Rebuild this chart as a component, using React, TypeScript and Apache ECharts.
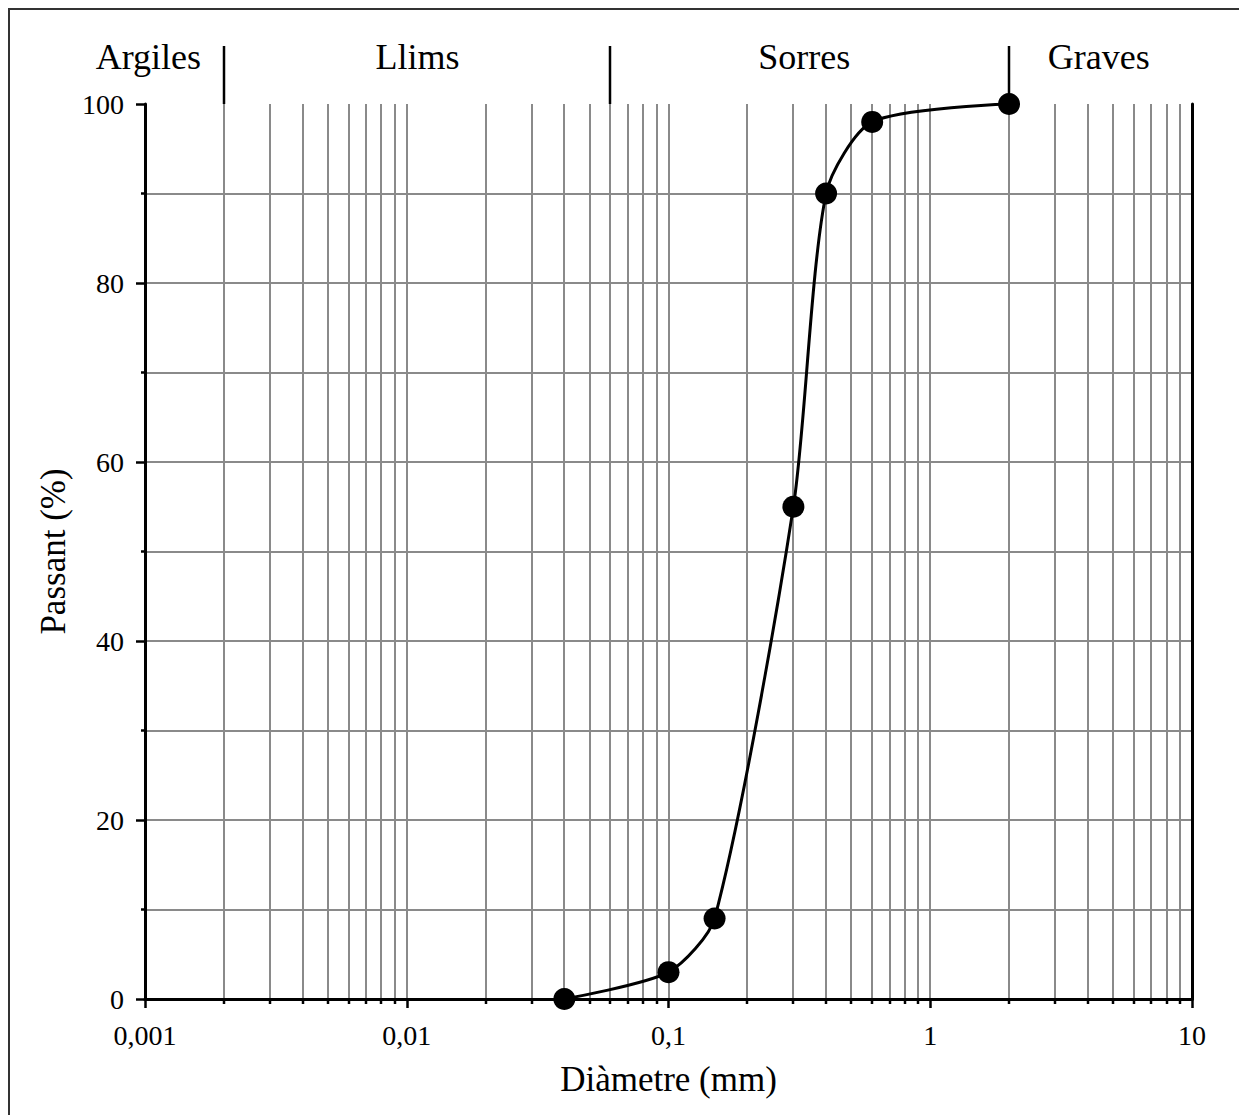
import React, { useEffect, useRef } from 'react';
import * as echarts from 'echarts';

// Grain size distribution data
const diameters = [0.04, 0.1, 0.15, 0.3, 0.4, 0.6, 2];
const passing = [0, 3, 9, 55, 90, 98, 100];

// Axis labels
const xTickLabels = ['0,001', '0,01', '0,1', '1', '10'];
const yTickLabels = ['0', '20', '40', '60', '80', '100'];

// Grid helpers
const decades = [0.001, 0.01, 0.1, 1];
const multipliers = [1, 2, 3, 4, 5, 6, 7, 8, 9];
const horizontalLines = [10, 20, 30, 40, 50, 60, 70, 80, 90];

// Soil zones
const zoneNames = ['Argiles', 'Llims', 'Sorres', 'Graves'];
const zoneLabelAt = [0.00103, 0.011, 0.33, 4.4];
const zoneBounds = [0.002, 0.06, 2];

const FONT = '"Liberation Serif", "Times New Roman", serif';
const GRAY = '#8a8a8a';

export default function App() {
  const ref = useRef<HTMLDivElement>(null);

  useEffect(() => {
    if (!ref.current) return;
    const chart = echarts.init(ref.current, undefined, { renderer: 'svg' });

    const option: any = {
      animation: false,
      backgroundColor: '#fff',
      textStyle: { fontFamily: FONT },
      grid: { left: 145, right: 47, top: 104, bottom: 116 },
      graphic: [
        {
          type: 'rect',
          shape: { x: 9, y: 9, width: 1400, height: 1400 },
          style: { fill: 'none', stroke: '#333', lineWidth: 2 },
          silent: true,
        },
      ],
      xAxis: [
        {
          type: 'log',
          logBase: 10,
          min: 0.001,
          max: 10,
          position: 'bottom',
          z: 5,
          name: 'Diàmetre (mm)',
          nameLocation: 'middle',
          nameGap: 63,
          nameTextStyle: { fontFamily: FONT, fontSize: 35, color: '#000' },
          axisLine: { show: true, lineStyle: { color: '#000', width: 3 } },
          axisTick: { show: true, length: 9, lineStyle: { color: '#000', width: 2.5 } },
          minorTick: { show: false },
          splitLine: { show: false },
          axisLabel: {
            fontFamily: FONT,
            fontSize: 28,
            color: '#000',
            margin: 22,
            formatter: (v: number) => {
              const idx = Math.round(Math.log10(v)) + 3;
              return xTickLabels[idx] ?? '';
            },
          },
        },
        {
          type: 'log',
          logBase: 10,
          min: 0.001,
          max: 10,
          position: 'top',
          z: 5,
          axisLine: { show: true, lineStyle: { color: '#000', width: 3 } },
          axisTick: { show: false },
          axisLabel: { show: false },
          splitLine: { show: false },
        },
      ],
      yAxis: [
        {
          type: 'value',
          min: 0,
          max: 100,
          interval: 20,
          position: 'left',
          z: 5,
          name: 'Passant (%)',
          nameLocation: 'middle',
          nameGap: 67,
          nameRotate: 90,
          nameTextStyle: { fontFamily: FONT, fontSize: 35, color: '#000' },
          axisLine: { show: true, lineStyle: { color: '#000', width: 3 } },
          axisTick: { show: true, length: 9, lineStyle: { color: '#000', width: 2.5 } },
          minorTick: { show: true, splitNumber: 2, length: 4, lineStyle: { color: '#000', width: 2.5 } },
          splitLine: { show: false },
          axisLabel: {
            fontFamily: FONT,
            fontSize: 28,
            color: '#000',
            margin: 21,
            formatter: (v: number) => yTickLabels[Math.round(v / 20)] ?? '',
          },
        },
        {
          type: 'value',
          min: 0,
          max: 100,
          interval: 20,
          position: 'right',
          z: 5,
          axisLine: { show: true, lineStyle: { color: '#000', width: 3 } },
          axisTick: { show: false },
          axisLabel: { show: false },
          splitLine: { show: false },
        },
      ],
      series: [
        {
          type: 'custom',
          z: 1,
          silent: true,
          clip: false,
          xAxisIndex: 0,
          yAxisIndex: 0,
          data: [[1, 50]],
          renderItem: (_params: any, api: any) => {
            const children: any[] = [];
            const yBottom = Math.round(api.coord([1, 0])[1]);
            const yTop = Math.round(api.coord([1, 100])[1]);
            const xLeft = Math.round(api.coord([0.001, 0])[0]);
            const xRight = Math.round(api.coord([10, 0])[0]);
            decades.forEach((d) => {
              multipliers.forEach((m) => {
                const x = Math.round(api.coord([d * m, 0])[0]);
                if (m !== 1 || d !== 0.001) {
                  children.push({
                    type: 'line',
                    shape: { x1: x, y1: yTop, x2: x, y2: yBottom },
                    style: { stroke: GRAY, lineWidth: 2 },
                  });
                }
                if (m !== 1) {
                  children.push({
                    type: 'line',
                    shape: { x1: x, y1: yBottom, x2: x, y2: yBottom + 5 },
                    style: { stroke: '#000', lineWidth: 2.5 },
                  });
                }
              });
            });
            horizontalLines.forEach((h) => {
              const y = Math.round(api.coord([1, h])[1]);
              children.push({
                type: 'line',
                shape: { x1: xLeft, y1: y, x2: xRight, y2: y },
                style: { stroke: GRAY, lineWidth: 2 },
              });
            });
            zoneBounds.forEach((b) => {
              const x = Math.round(api.coord([b, 100])[0]);
              children.push({
                type: 'line',
                shape: { x1: x, y1: yTop - 58, x2: x, y2: yTop },
                style: { stroke: '#000', lineWidth: 2.5 },
              });
            });
            zoneNames.forEach((name, i) => {
              const x = api.coord([zoneLabelAt[i], 100])[0];
              children.push({
                type: 'text',
                style: {
                  text: name,
                  x,
                  y: yTop - 47,
                  align: 'center',
                  verticalAlign: 'middle',
                  fontSize: 36,
                  fontFamily: FONT,
                  fill: '#000',
                },
              });
            });
            return { type: 'group', children };
          },
        },
        {
          type: 'line',
          z: 10,
          xAxisIndex: 0,
          yAxisIndex: 0,
          data: diameters.map((d, i) => [d, passing[i]]),
          smooth: 0.25,
          symbol: 'circle',
          symbolSize: 22,
          itemStyle: { color: '#000' },
          lineStyle: { color: '#000', width: 3 },
        },
      ],
    };

    chart.setOption(option);
    return () => chart.dispose();
  }, []);

  return (
    <div
      ref={ref}
      style={{ position: 'fixed', left: 0, top: 0, width: 1239, height: 1115, background: '#fff' }}
    />
  );
}
